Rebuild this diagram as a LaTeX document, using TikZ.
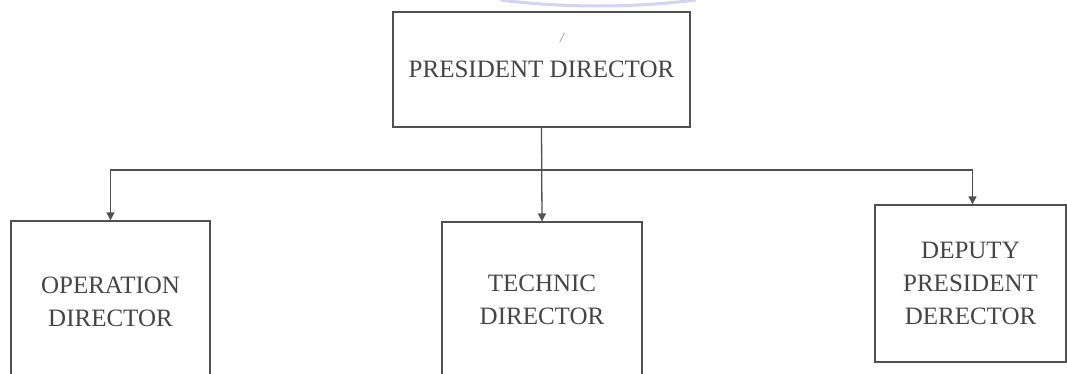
\documentclass[tikz,border=0pt]{standalone}
\usepackage{fontspec}
\setmainfont{Liberation Serif}
\usetikzlibrary{arrows.meta}
\definecolor{inkgray}{HTML}{454545}
\definecolor{linegray}{HTML}{505050}
\definecolor{wmark}{HTML}{D2D2F2}
\tikzset{
  orgbox/.style={draw=linegray, line width=1.3pt, fill=white, text=inkgray,
    align=center, inner sep=0pt, font=\fontsize{25}{33}\selectfont},
  link/.style={draw=linegray, line width=1.3pt},
  linkarrow/.style={link, -{Triangle[length=8pt,width=8pt]}}
}
\begin{document}
\begin{tikzpicture}[x=1pt,y=-1pt]
\clip (0,0) rectangle (1067,374);
\fill[white] (0,0) rectangle (1067,374);
% faint watermark arc
\draw[wmark, line width=3pt] (598,-794) ++(83:800) arc[start angle=83, end angle=97, radius=800];
\node[orgbox, minimum width=297pt, minimum height=115pt] (pres) at (541.5,69.5) {PRESIDENT DIRECTOR};
\node[text=gray, font=\itshape\fontsize{14}{14}\selectfont] (mark) at (562,38) {/};
\node[orgbox, minimum width=199pt, minimum height=162pt] (oper) at (110.5,302) {OPERATION\\DIRECTOR};
\node[orgbox, minimum width=200pt, minimum height=156pt] (tech) at (542,300) {TECHNIC\\DIRECTOR};
\node[orgbox, minimum width=191pt, minimum height=157pt] (dep) at (970.5,283.5) {DEPUTY\\PRESIDENT\\DERECTOR};
\coordinate (junc) at (pres.south |- 0,170);
\draw[linkarrow] (pres.south) -- (tech.north);
\draw[linkarrow] (junc) -| (oper.north);
\draw[linkarrow] (junc) -| ([xshift=2pt]dep.north);
\end{tikzpicture}
\end{document}
